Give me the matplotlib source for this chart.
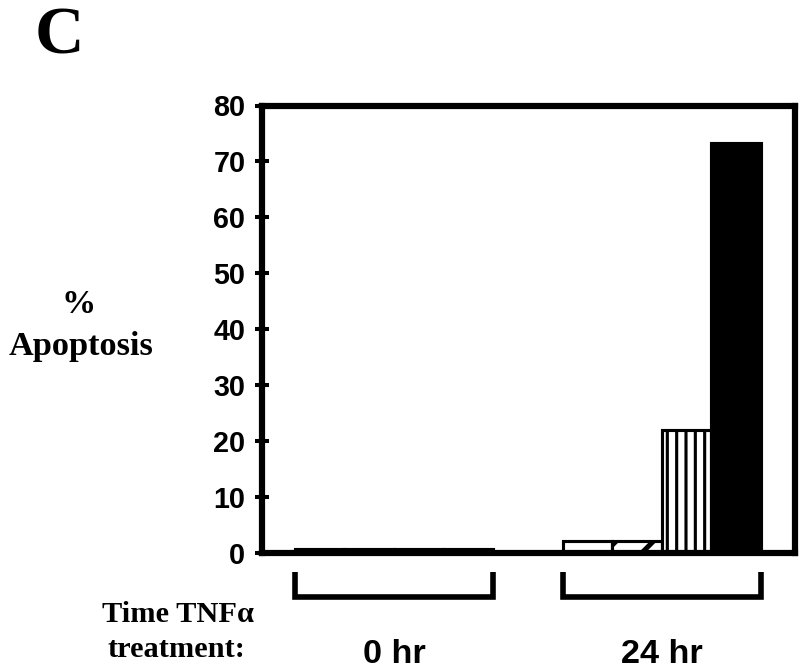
import matplotlib
matplotlib.use("Agg")
import matplotlib.pyplot as plt
import matplotlib.transforms as mtransforms
from matplotlib import font_manager
import numpy as np

# ---- data ----
groups = ["0 hr", "24 hr"]
series_values = {
    "open":     [0.8, 2.1],
    "diagonal": [0.8, 2.1],
    "vertical": [0.8, 21.9],
    "solid":    [0.8, 73.3],
}
yticks = [0, 10, 20, 30, 40, 50, 60, 70, 80]

# ---- styles ----
styles = [
    dict(color="white", hatch=None, hlw=2.0),
    dict(color="white", hatch="/", hlw=3.2),
    dict(color="white", hatch="||", hlw=2.0),
    dict(color="black", hatch=None, hlw=2.0),
]

installed = {f.name for f in font_manager.fontManager.ttflist}
group_family = "Liberation Sans Narrow" if "Liberation Sans Narrow" in installed else "Liberation Sans"
group_size = 25 if group_family == "Liberation Sans Narrow" else 22

DPI = 112
fig = plt.figure(figsize=(800 / DPI, 670 / DPI), dpi=DPI)
ax = fig.add_axes([262 / 800, 1 - 553 / 670, (795 - 262) / 800, (553 - 105.5) / 670])

x = np.arange(len(groups))
w = 0.1847
offsets = np.array([-1.5, -0.5, 0.5, 1.5]) * w

for (name, vals), st, off in zip(series_values.items(), styles, offsets):
    with plt.rc_context({"hatch.linewidth": st["hlw"], "hatch.color": "black"}):
        bars = ax.bar(x + off, vals, width=w, color=st["color"], edgecolor="black",
                      linewidth=2.0, hatch=st["hatch"], zorder=2)
    for b in bars:
        if hasattr(b, "set_hatch_linewidth"):
            b.set_hatch_linewidth(st["hlw"])

ax.set_xlim(-0.4925, 1.4963)
ax.set_ylim(0, 80)
ax.set_yticks(yticks)
ax.set_yticklabels([str(t) for t in yticks], fontfamily="Liberation Sans",
                   fontweight="bold", fontsize=18.5)
ax.tick_params(axis="y", direction="inout", length=9.5, width=2.6, pad=6, color="black")
ax.tick_params(axis="x", length=0, labelbottom=False)

for s in ["left", "right", "top", "bottom"]:
    ax.spines[s].set_linewidth(4.0)
    ax.spines[s].set_color("black")
    ax.spines[s].set_zorder(3)

# brackets below each group
for xi in x:
    left, right = xi - 2 * w, xi + 2 * w
    ax.plot([left, left, right, right], [-3.4, -7.9, -7.9, -3.4], color="black",
            lw=3.6, clip_on=False, solid_joinstyle="miter", solid_capstyle="butt")

# group labels
trans = mtransforms.blended_transform_factory(ax.transData, fig.transFigure)
for xi, g in zip(x, groups):
    ax.text(xi, 1 - 663 / 670, g, transform=trans, ha="center", va="baseline",
            fontfamily=group_family, fontweight="bold", fontsize=group_size)

# figure texts
fig.text(59 / 800, 1 - 54 / 670, "C", ha="center", va="baseline",
         fontfamily="Liberation Serif", fontweight="bold", fontsize=44)
fig.text(79 / 800, 1 - 313 / 670, "%", ha="center", va="baseline",
         fontfamily="Liberation Serif", fontweight="bold", fontsize=22)
fig.text(81 / 800, 1 - 355 / 670, "Apoptosis", ha="center", va="baseline",
         fontfamily="Liberation Serif", fontweight="bold", fontsize=22)
fig.text(178 / 800, 1 - 622 / 670, "Time TNF\u03b1", ha="center", va="baseline",
         fontfamily="Liberation Serif", fontweight="bold", fontsize=19.5)
fig.text(176 / 800, 1 - 657 / 670, "treatment:", ha="center", va="baseline",
         fontfamily="Liberation Serif", fontweight="bold", fontsize=19.5)

fig.savefig("out.png", dpi=DPI, facecolor="white")
